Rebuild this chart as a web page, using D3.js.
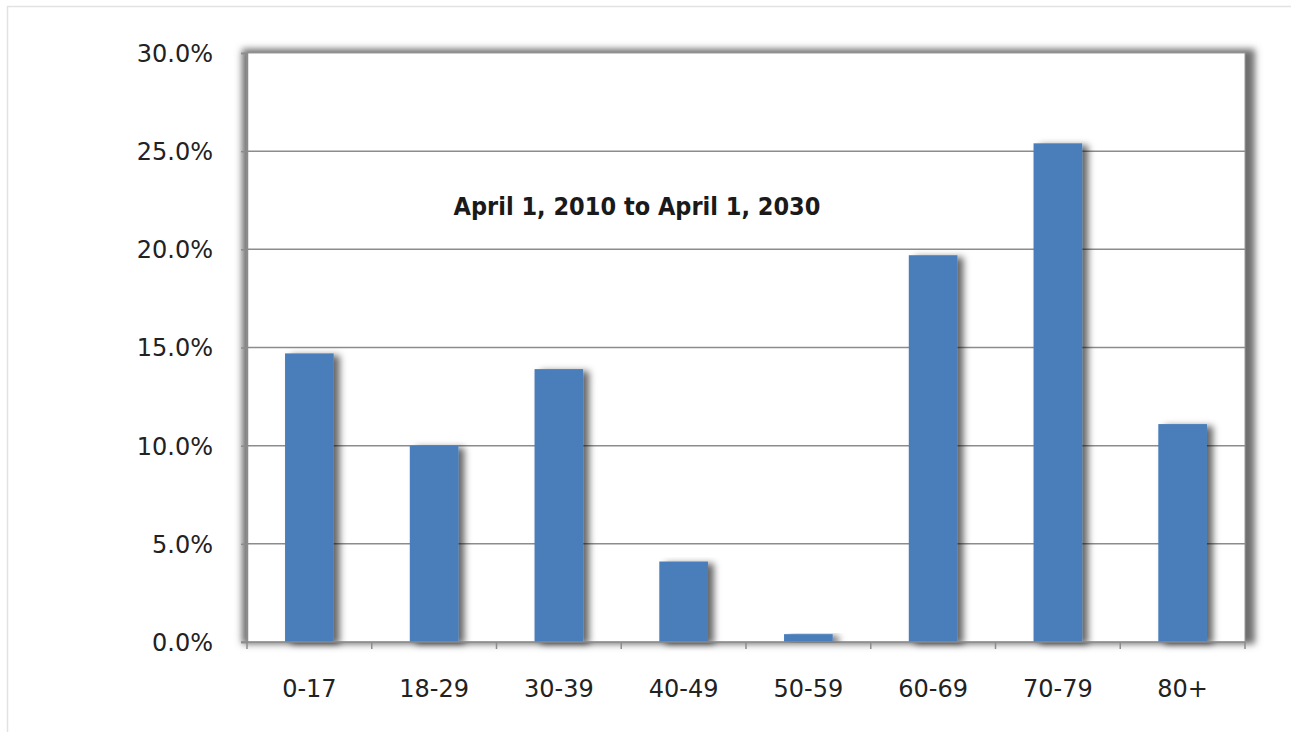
<!DOCTYPE html>
<html>
<head>
<meta charset="utf-8">
<script src="https://cdn.jsdelivr.net/npm/d3@7"></script>
<style>
  html, body { margin: 0; padding: 0; background: #fff; }
  svg { display: block; }
</style>
</head>
<body>
<svg id="chart" width="1291" height="732"></svg>
<script>
// Age groups and percentage change per group
const ageGroups = ["0-17", "18-29", "30-39", "40-49", "50-59", "60-69", "70-79", "80+"];
const pctChange = [14.7, 10.0, 13.9, 4.1, 0.4, 19.7, 25.4, 11.1];
const yTicks = [0, 5, 10, 15, 20, 25, 30];
const subtitle = "April 1, 2010 to April 1, 2030";

const svg = d3.select("#chart");
const W = 1291, H = 732;
const plot = { left: 247, top: 53, right: 1245, bottom: 642 };
const font = "Tahoma, 'DejaVu Sans', sans-serif";

const defs = svg.append("defs");
const barShadow = defs.append("filter").attr("id", "barShadow")
  .attr("x", "-30%").attr("y", "-5%").attr("width", "190%").attr("height", "115%");
barShadow.append("feDropShadow").attr("dx", 6).attr("dy", 2)
  .attr("stdDeviation", 3.5).attr("flood-color", "#000").attr("flood-opacity", 0.6);

const frameBlur = defs.append("filter").attr("id", "frameBlur")
  .attr("x", "-5%").attr("y", "-5%").attr("width", "110%").attr("height", "110%");
frameBlur.append("feGaussianBlur").attr("stdDeviation", 3.5);

// Outer border of the chart
svg.append("path")
  .attr("d", `M7.5,${H} V6.5 H${W}`)
  .attr("fill", "none").attr("stroke", "#e2e2e2").attr("stroke-width", 1.5);

const x = d3.scaleBand().domain(ageGroups).range([plot.left, plot.right])
  .paddingInner(0.61).paddingOuter(0.305);
const y = d3.scaleLinear().domain([0, 30]).range([plot.bottom, plot.top]);

// Plot-area panel with a soft shadow around it
svg.append("rect")
  .attr("x", plot.left - 5).attr("y", plot.top - 4)
  .attr("width", plot.right - plot.left + 15).attr("height", plot.bottom - plot.top + 6)
  .attr("fill", "#6e6e6e").attr("filter", "url(#frameBlur)");
svg.append("rect")
  .attr("x", plot.left).attr("y", plot.top)
  .attr("width", plot.right - plot.left).attr("height", plot.bottom - plot.top)
  .attr("fill", "#fff").attr("stroke", "#9a9a9a").attr("stroke-width", 1);

// Gridlines
svg.append("g").selectAll("line").data(yTicks.slice(1, -1)).join("line")
  .attr("x1", plot.left).attr("x2", plot.right)
  .attr("y1", d => y(d)).attr("y2", d => y(d))
  .attr("stroke", "#8c8c8c").attr("stroke-width", 1.5);

// Y axis
const yAxis = svg.append("g").attr("transform", `translate(${plot.left},0)`)
  .call(d3.axisLeft(y).tickValues(yTicks).tickSize(6).tickPadding(28)
    .tickFormat(d => d.toFixed(1) + "%"));
yAxis.select(".domain").attr("stroke", "#8c8c8c").attr("stroke-width", 1.5);
yAxis.selectAll(".tick line").attr("stroke", "#8c8c8c").attr("stroke-width", 1.5);
yAxis.selectAll("text").attr("font-family", font)
  .attr("font-size", 24).attr("fill", "#222").attr("dy", "0.35em");

// Bars
svg.append("g").selectAll("rect").data(pctChange).join("rect")
  .attr("x", (d, i) => x(ageGroups[i]))
  .attr("y", d => y(d))
  .attr("width", x.bandwidth())
  .attr("height", d => y(0) - y(d))
  .attr("fill", "#4a7ebb")
  .attr("filter", "url(#barShadow)");

// X axis with ticks at category boundaries
const xAxisG = svg.append("g").attr("transform", `translate(0,${plot.bottom})`);
xAxisG.append("line").attr("x1", plot.left - 6).attr("x2", plot.right)
  .attr("stroke", "#8c8c8c").attr("stroke-width", 1.5);
const step = x.step();
const bounds = d3.range(ageGroups.length + 1).map(i => plot.left + i * step);
xAxisG.selectAll("line.tk").data(bounds).join("line").attr("class", "tk")
  .attr("x1", d => d).attr("x2", d => d).attr("y1", 0).attr("y2", 7)
  .attr("stroke", "#8c8c8c").attr("stroke-width", 1.5);
xAxisG.selectAll("text").data(ageGroups).join("text")
  .attr("x", d => x(d) + x.bandwidth() / 2).attr("y", 55)
  .attr("text-anchor", "middle")
  .attr("font-family", font)
  .attr("font-size", 24).attr("fill", "#222")
  .text(d => d);

// Subtitle inside the plot
svg.append("text")
  .attr("x", 637).attr("y", 215).attr("text-anchor", "middle")
  .attr("font-family", "'DejaVu Sans', Verdana, sans-serif")
  .style("font-stretch", "condensed")
  .attr("font-weight", "bold").attr("font-size", 25).attr("fill", "#1a1a1a")
  .text(subtitle);
</script>
</body>
</html>
